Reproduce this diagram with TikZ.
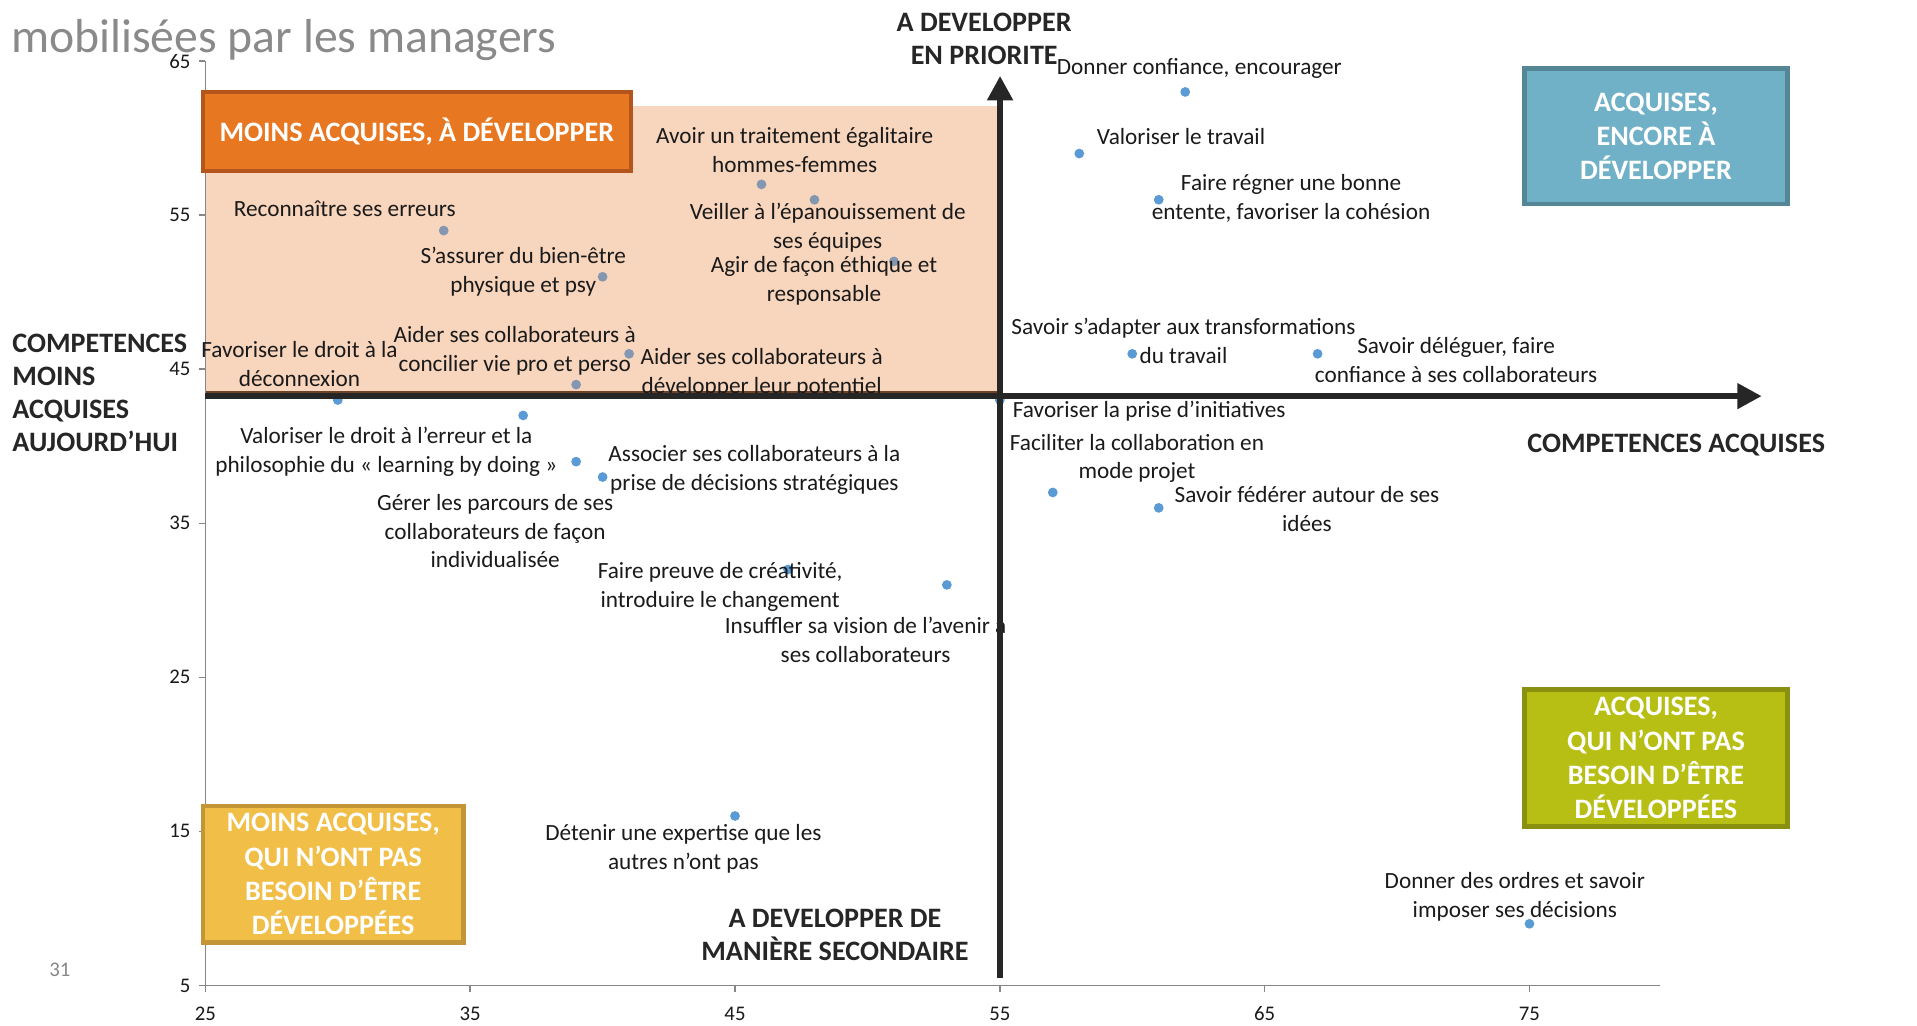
\documentclass[tikz,border=0pt]{standalone}
\usepackage{fontspec}
\setmainfont{Carlito}
\usetikzlibrary{arrows.meta}
\definecolor{shadecol}{HTML}{F8D5BD}
\definecolor{orfill}{HTML}{E87722}
\definecolor{ordraw}{HTML}{B4561C}
\definecolor{blfill}{HTML}{71B1C8}
\definecolor{bldraw}{HTML}{558696}
\definecolor{grfill}{HTML}{B8BF14}
\definecolor{grdraw}{HTML}{8A9010}
\definecolor{yefill}{HTML}{F1BE48}
\definecolor{yedraw}{HTML}{C29536}
\definecolor{dotgrey}{HTML}{8497B0}
\definecolor{dotblue}{HTML}{5B9BD5}
\definecolor{axgray}{HTML}{878787}
\definecolor{titlegray}{HTML}{8A8A8A}
\definecolor{arrowcol}{HTML}{262626}
\definecolor{brownline}{HTML}{6E4226}
\definecolor{txt}{HTML}{1A1A1A}
\begin{document}
\begin{tikzpicture}[x=1pt,y=-1pt,
  lbl/.style={font=\fontsize{19}{23.5}\selectfont, align=center, inner sep=0pt, text=txt},
  blbl/.style={font=\bfseries\fontsize{23}{27}\selectfont, align=center, inner sep=0pt, text=arrowcol},
  qbox/.style={font=\bfseries\fontsize{23}{28}\selectfont, align=center, inner sep=0pt, text=white, line width=3.5pt},
  ticklbl/.style={font=\fontsize{17}{20}\selectfont, inner sep=0pt, text=txt},
  axisline/.style={draw=axgray, line width=1.2pt},
  bigarrow/.style={draw=arrowcol, line width=5pt, -{Triangle[length=20pt,width=20pt]}},
  gdot/.style={circle, fill=dotgrey, inner sep=0pt, minimum size=8pt},
  bdot/.style={circle, fill=dotblue, inner sep=0pt, minimum size=8pt}]
\useasboundingbox (0,0) rectangle (1568,838.4);

% shaded priority region
\fill[shadecol] (168,87) rectangle (818,322);
\draw[brownline, line width=2.5pt] (168,321) -- (818,321);

% title
\node[anchor=base west, font=\fontsize{39}{47}\selectfont, text=titlegray, inner sep=0pt] (title) at (9,43) {mobilisées par les managers};

% axes
\coordinate (ytop) at (168,50);
\coordinate (orig) at (168,806);
\coordinate (xend) at (1358,806);
\draw[axisline] (ytop) -- (orig) -- (xend);
\foreach \v in {5,15,...,65} {
  \draw[axisline] (163,{806-(\v-5)*12.6}) -- (168,{806-(\v-5)*12.6});
  \node[ticklbl, anchor=east] (yl\v) at (156,{806-(\v-5)*12.6}) {\v};
}
\foreach \v in {25,35,...,75} {
  \draw[axisline] ({168+(\v-25)*21.66},806) -- ({168+(\v-25)*21.66},811);
  \node[ticklbl] (xl\v) at ({168+(\v-25)*21.66},829) {\v};
}
\node[ticklbl, text=axgray] (pagenum) at (49,793) {31};

% data points
\begin{scope}[shift={(168,806)}, x=21.66pt, y=12.6pt, shift={(-25,-5)}]
\node[gdot] (p1) at (34,54) {};
\node[gdot] (p2) at (40,51) {};
\node[gdot] (p3) at (46,57) {};
\node[gdot] (p4) at (48,56) {};
\node[gdot] (p5) at (51,52) {};
\node[gdot] (p6) at (41,46) {};
\node[gdot] (p7) at (39,44) {};
\node[bdot] (q1) at (30,43) {};
\node[bdot] (q2) at (37,42) {};
\node[bdot] (q3) at (39,39) {};
\node[bdot] (q4) at (40,38) {};
\node[bdot] (q5) at (47,32) {};
\node[bdot] (q6) at (53,31) {};
\node[bdot] (q7) at (45,16) {};
\node[bdot] (q8) at (62,63) {};
\node[bdot] (q9) at (58,59) {};
\node[bdot] (q10) at (61,56) {};
\node[bdot] (q11) at (60,46) {};
\node[bdot] (q12) at (67,46) {};
\node[bdot] (q13) at (55,43) {};
\node[bdot] (q14) at (57,37) {};
\node[bdot] (q15) at (61,36) {};
\node[bdot] (q16) at (75,9) {};
\end{scope}

% point labels
\node[lbl] (t1) at (282,171) {Reconnaître ses erreurs};
\node[lbl] (t2) at (428,222) {S’assurer du bien-être\\physique et psy};
\node[lbl] (t3) at (650,122.5) {Avoir un traitement égalitaire\\hommes-femmes};
\node[lbl] (t4) at (677,186) {Veiller à l’épanouissement de\\ses équipes};
\node[lbl] (t5) at (674,229.5) {Agir de façon éthique et\\responsable};
\node[lbl] (t6) at (245,298) {Favoriser le droit à la\\déconnexion};
\node[lbl] (t7) at (421,287) {Aider ses collaborateurs à\\concilier vie pro et perso};
\node[lbl] (t8) at (623,305) {Aider ses collaborateurs à\\développer leur potentiel};
\node[lbl] (t9) at (316,369.5) {Valoriser le droit à l’erreur et la\\philosophie du « learning by doing »};
\node[lbl] (t10) at (617,384.5) {Associer ses collaborateurs à la\\prise de décisions stratégiques};
\node[lbl] (t11) at (405,434.5) {Gérer les parcours de ses\\collaborateurs de façon\\individualisée};
\node[lbl] (t12) at (589,480) {Faire preuve de créativité,\\introduire le changement};
\node[lbl] (t13) at (708,523.5) {Insuffler sa vision de l’avenir à\\ses collaborateurs};
\node[lbl] (t14) at (559,694.5) {Détenir une expertise que les\\autres n’ont pas};
\node[lbl] (t15) at (981,56) {Donner confiance, encourager};
\node[lbl] (t16) at (966,112) {Valoriser le travail};
\node[lbl] (t17) at (1056,162.5) {Faire régner une bonne\\entente, favoriser la cohésion};
\node[lbl] (t18) at (968,279) {Savoir s’adapter aux transformations\\du travail};
\node[lbl] (t19) at (1191,294.5) {Savoir déléguer, faire\\confiance à ses collaborateurs};
\node[lbl] (t20) at (940,336) {Favoriser la prise d’initiatives};
\node[lbl] (t21) at (930,375) {Faciliter la collaboration en\\mode projet};
\node[lbl] (t22) at (1069,416.5) {Savoir fédérer autour de ses\\idées};
\node[lbl] (t23) at (1239,733.5) {Donner des ordres et savoir\\imposer ses décisions};

% quadrant boxes
\node[qbox, fill=orfill, draw=ordraw, minimum width=350pt, minimum height=65pt] (bor) at (341,107.5) {MOINS ACQUISES, À DÉVELOPPER};
\node[qbox, fill=blfill, draw=bldraw, minimum width=215pt, minimum height=111pt] (bbl) at (1354.5,111.5) {ACQUISES,\\ENCORE À\\DÉVELOPPER};
\node[qbox, fill=grfill, draw=grdraw, minimum width=215pt, minimum height=112pt] (bgr) at (1354.5,620) {ACQUISES,\\QUI N’ONT PAS\\BESOIN D’ÊTRE\\DÉVELOPPÉES};
\node[qbox, fill=yefill, draw=yedraw, minimum width=213pt, minimum height=112pt] (bye) at (272.5,715) {MOINS ACQUISES,\\QUI N’ONT PAS\\BESOIN D’ÊTRE\\DÉVELOPPÉES};

% axis titles
\node[blbl] (aprio) at (805,31.5) {A DEVELOPPER\\EN PRIORITE};
\node[blbl, align=left, anchor=west] (amoins) at (10,321.5) {COMPETENCES\\MOINS\\ACQUISES\\AUJOURD’HUI};
\node[blbl] (aacq) at (1371,364) {COMPETENCES ACQUISES};
\node[blbl] (asec) at (683,765) {A DEVELOPPER DE\\MANIÈRE SECONDAIRE};

% big arrows
\coordinate (hs) at (168,324);
\coordinate (he) at (1441,324);
\coordinate (vs) at (818,800);
\coordinate (ve) at (818,62);
\draw[bigarrow] (hs) -- (he);
\draw[bigarrow] (vs) -- (ve);
\end{tikzpicture}
\end{document}
